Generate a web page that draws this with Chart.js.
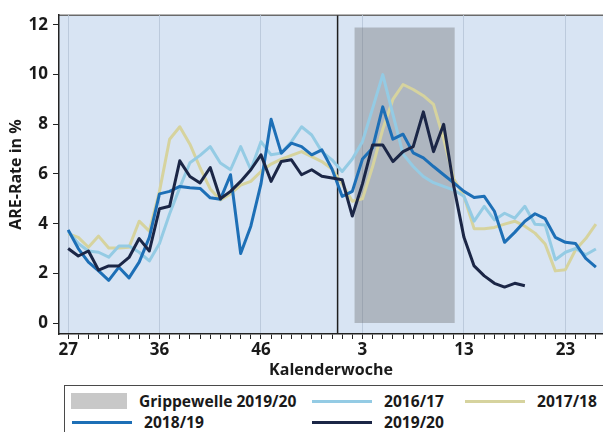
<!DOCTYPE html>
<html>
<head>
<meta charset="utf-8">
<script src="https://cdn.jsdelivr.net/npm/chart.js@4.4.1/dist/chart.umd.min.js"></script>
<style>
body{margin:0;background:#fff;overflow:hidden;}
#wrap{position:relative;width:603px;height:432px;overflow:hidden;font-family:"Open Sans",sans-serif;}
#legend{position:absolute;left:64px;top:385px;width:560px;height:60px;border:1px solid #4a4a4a;box-sizing:border-box;}
.item{position:absolute;display:flex;align-items:center;height:20px;font-weight:bold;font-size:15.6px;color:#1a1a1a;white-space:nowrap;}
.sw{display:inline-block;margin-right:12px;}
</style>
</head>
<body>
<div id="wrap">
  <canvas id="chart" width="603" height="380"></canvas>
  <div id="legend"></div>
</div>
<script>
//Calendar weeks on the x axis, season runs from week 27 to week 26
const weeks = [27,28,29,30,31,32,33,34,35,36,37,38,39,40,41,42,43,44,45,46,47,48,49,50,51,52,53,
               1,2,3,4,5,6,7,8,9,10,11,12,13,14,15,16,17,18,19,20,21,22,23,24,25,26];
const labelWeeks = [27,36,46,3,13,23];
const yTicks = [0,2,4,6,8,10,12];

//ARE rate per week, one array per season
const s1617 = [3.7,3.2,2.9,2.85,2.65,3.1,3.1,2.85,2.5,3.2,
               4.4,5.45,6.45,6.75,7.1,6.44,6.17,7.1,6.17,7.3,
               6.77,6.84,7.3,7.9,7.57,6.9,6.57,6.1,6.6,7.3,
               8.64,10.0,8.4,6.8,6.3,5.9,5.65,5.5,5.35,5.1,
               4.1,4.7,4.15,4.42,4.22,4.7,3.98,3.95,2.55,2.85,
               3.0,2.75,2.98];
const s1718 = [3.6,3.45,3.05,3.5,3.02,3.02,3.05,4.1,3.7,5.3,
               7.4,7.9,7.2,6.25,5.4,4.95,5.2,5.55,5.7,6.1,
               6.4,6.6,6.75,6.9,6.7,6.5,6.2,5.6,4.9,5.0,
               6.3,7.8,9.0,9.6,9.4,9.15,8.8,7.4,5.8,5.1,
               3.8,3.8,3.85,3.98,4.1,3.9,3.62,3.18,2.1,2.15,
               2.95,3.4,3.98];
const s1819 = [3.75,3.0,2.45,2.1,1.72,2.25,1.82,2.45,3.45,5.2,
               5.3,5.5,5.45,5.42,5.04,4.98,5.97,2.8,3.9,5.6,
               8.2,6.84,7.24,7.1,6.77,6.97,6.2,5.1,5.3,6.6,
               7.05,8.7,7.4,7.6,6.85,6.65,6.3,5.97,5.64,5.3,
               5.05,5.1,4.5,3.25,3.65,4.1,4.4,4.2,3.45,3.25,
               3.2,2.6,2.25];
const s1920 = [3.0,2.7,2.9,2.13,2.3,2.3,2.64,3.4,2.9,4.6,
               4.7,6.53,5.9,5.64,6.26,5.0,5.3,5.7,6.17,6.77,
               5.7,6.5,6.57,5.97,6.17,5.91,5.84,5.77,4.31,5.6,
               7.17,7.17,6.5,6.9,7.1,8.5,6.9,8.0,5.5,3.45,
               2.3,1.9,1.6,1.45,1.6,1.5];

//Flu wave 2019/20 (week positions on the index axis) and the turn of the year
const fluWaveX = [28.2, 38.1];
const fluWaveTop = 11.9;
const yearBreakX = 26.55;

const seriesNames = ["2016/17","2017/18","2018/19","2019/20"];
const seriesColors = ["#94cbe4","#d6d39e","#1d6fb6","#1b2646"];
const fluName = "Grippewelle 2019/20";
const fluColor = "rgba(98,98,98,0.35)";

const xMin = -0.9, xMax = 52.7, yMin = -0.44, yMax = 12.39;

function toPoints(arr){
    return arr.map((v,i) => ({x:i, y:v}));
}
var majorIdx = labelWeeks.map(w => weeks.indexOf(w));

//light blue plot background and the thin top border
const plotBg = {
    id: 'plotBg',
    beforeDraw(chart){
        const a = chart.chartArea;
        const ctx = chart.ctx;
        ctx.save();
        ctx.fillStyle = "#d8e4f3";
        ctx.fillRect(a.left, a.top, a.right - a.left, a.bottom - a.top);
        ctx.strokeStyle = "#6a6a6a";
        ctx.lineWidth = 1.5;
        ctx.beginPath();
        ctx.moveTo(a.left, a.top);
        ctx.lineTo(a.right, a.top);
        ctx.stroke();
        ctx.restore();
    }
};

function lineSet(name, data, color){
    return {
        label: name,
        data: toPoints(data),
        borderColor: color,
        borderWidth: 3,
        pointRadius: 0,
        tension: 0,
        fill: false,
        borderJoinStyle: 'round'
    };
}

const datasets = [
    lineSet(seriesNames[3], s1920, seriesColors[3]),
    lineSet(seriesNames[2], s1819, seriesColors[2]),
    lineSet(seriesNames[0], s1617, seriesColors[0]),
    lineSet(seriesNames[1], s1718, seriesColors[1]),
    {
        label: 'year',
        data: [{x:yearBreakX, y:yMin}, {x:yearBreakX, y:yMax}],
        borderColor: "#1e1e1e",
        borderWidth: 1.5,
        pointRadius: 0,
        fill: false
    },
    {
        label: fluName,
        data: [{x:fluWaveX[0], y:fluWaveTop}, {x:fluWaveX[1], y:fluWaveTop}],
        borderWidth: 0,
        borderColor: 'rgba(0,0,0,0)',
        backgroundColor: fluColor,
        pointRadius: 0,
        fill: 'origin'
    }
];

const fontFam = '"Open Sans", sans-serif';

new Chart(document.getElementById("chart"), {
    type: 'line',
    data: { datasets: datasets },
    plugins: [plotBg],
    options: {
        responsive: false,
        animation: false,
        devicePixelRatio: 1,
        layout: { padding: { top: 13, right: 0, bottom: 0, left: 0 } },
        plugins: { legend: { display: false }, tooltip: { enabled: false } },
        scales: {
            x: {
                type: 'linear',
                min: xMin,
                max: xMax,
                afterBuildTicks: s => { s.ticks = weeks.map((w,i) => ({value:i})); },
                afterFit: s => { s.height = 46; },
                ticks: {
                    autoSkip: false,
                    maxRotation: 0,
                    padding: 1,
                    color: "#1a1a1a",
                    font: { family: fontFam, size: 17, weight: 'bold' },
                    callback: v => majorIdx.includes(v) ? String(weeks[v]) : ''
                },
                grid: {
                    drawOnChartArea: true,
                    color: c => (c.tick && majorIdx.includes(c.tick.value)) ? "#bccadc" : "rgba(0,0,0,0)",
                    tickColor: "#222",
                    tickLength: 5
                },
                border: { color: "#222", width: 1.5 },
                title: {
                    display: true,
                    text: "Kalenderwoche",
                    color: "#1a1a1a",
                    font: { family: fontFam, size: 16, weight: 'bold' },
                    padding: { top: 3, bottom: 0 }
                }
            },
            y: {
                min: yMin,
                max: yMax,
                afterBuildTicks: s => { s.ticks = yTicks.map(v => ({value:v})); },
                afterFit: s => { s.width = 59; },
                ticks: {
                    padding: 5,
                    color: "#1a1a1a",
                    font: { family: fontFam, size: 17, weight: 'bold' }
                },
                grid: {
                    drawOnChartArea: false,
                    tickColor: "#222",
                    tickLength: 6
                },
                border: { color: "#222", width: 1.5 },
                title: {
                    display: true,
                    text: "ARE-Rate in %",
                    color: "#1a1a1a",
                    font: { family: fontFam, size: 16, weight: 'bold' },
                    padding: { top: 7, bottom: 0 }
                }
            }
        }
    }
});

//Legend, three columns like the original figure
const legendItems = [
    {name: fluName, color: fluColor, box: true, left: 71, top: 391},
    {name: seriesNames[0], color: seriesColors[0], left: 312, top: 391},
    {name: seriesNames[1], color: seriesColors[1], left: 465, top: 391},
    {name: seriesNames[2], color: seriesColors[2], left: 72, top: 412},
    {name: seriesNames[3], color: seriesColors[3], left: 312, top: 412}
];
const wrap = document.getElementById("wrap");
for(let i = 0;i < legendItems.length;i++){
    var it = legendItems[i];
    var d = document.createElement("div");
    d.className = "item";
    d.style.left = it.left + "px";
    d.style.top = it.top + "px";
    var sw = document.createElement("span");
    sw.className = "sw";
    if(it.box){
        sw.style.width = "56px";
        sw.style.height = "16px";
        sw.style.background = it.color;
    }
    else{
        sw.style.width = "60px";
        sw.style.height = "3px";
        sw.style.background = it.color;
    }
    d.appendChild(sw);
    var t = document.createElement("span");
    t.textContent = it.name;
    d.appendChild(t);
    wrap.appendChild(d);
}
</script>
</body>
</html>
